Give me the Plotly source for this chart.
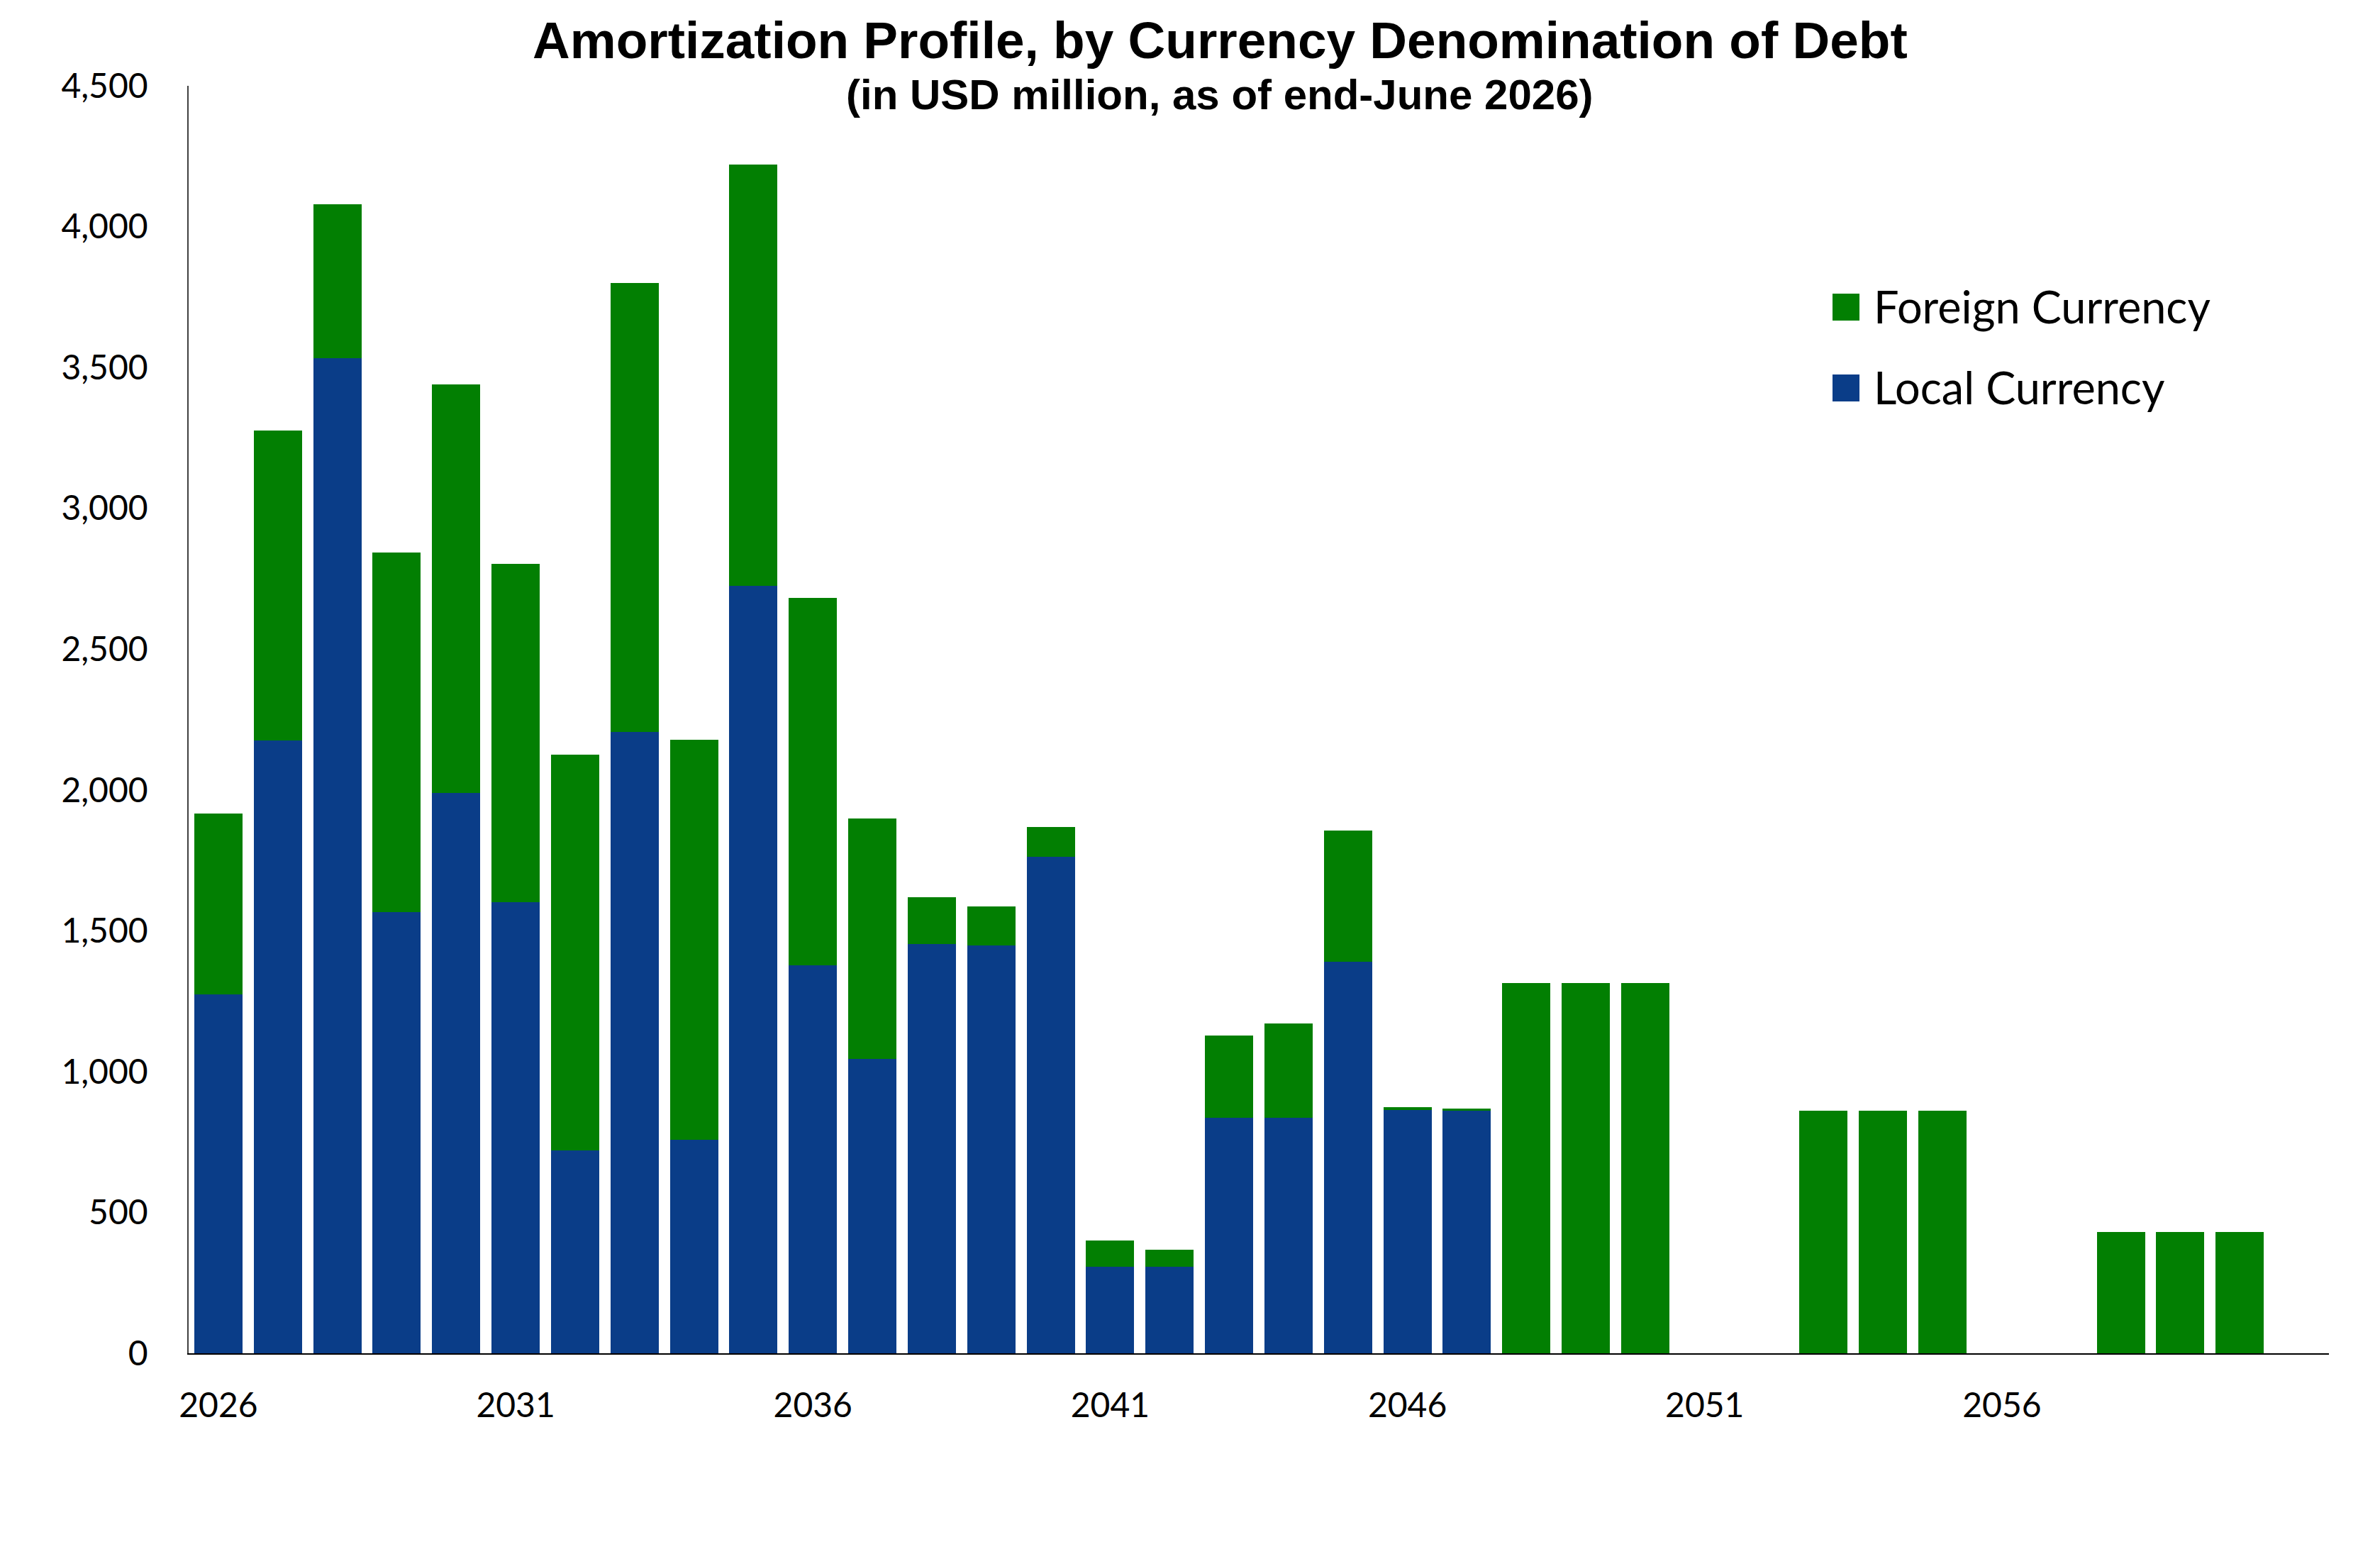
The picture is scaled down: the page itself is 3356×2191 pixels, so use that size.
import plotly.graph_objects as go

# ---- data (USD million) ----
years = list(range(2026, 2061))
local_currency = [1274, 2175, 3533, 1566, 1990, 1601, 720, 2206, 757, 2724,
                  1377, 1046, 1453, 1449, 1762, 306, 306, 836, 836, 1389,
                  863, 863, 0, 0, 0, 0, 0, 0, 0, 0,
                  0, 0, 0, 0, 0]
foreign_currency = [642, 1102, 546, 1278, 1451, 1202, 1406, 1594, 1422, 1496,
                    1304, 852, 166, 138, 106, 94, 62, 292, 336, 466,
                    10, 5, 1315, 1315, 1315, 0, 0, 861, 861, 861,
                    0, 0, 430, 430, 430]
x_tick_years = [2026, 2031, 2036, 2041, 2046, 2051, 2056]
y_ticks = [0, 500, 1000, 1500, 2000, 2500, 3000, 3500, 4000, 4500]

title_text = "Amortization Profile, by Currency Denomination of Debt"
subtitle_text = "(in USD million, as of end-June 2026)"
series_names = ["Foreign Currency", "Local Currency"]

GREEN = "#027F02"
BLUE = "#0A3D88"

OFF = 8  # page body margin
W, H = 3356 - OFF, 2191 - OFF
L, R, T, B = 266 - OFF, 72, 121 - OFF, 283
PW, PH = W - L - R, H - T - B


def px_x(p):
    # p is a page pixel position
    return (p - OFF - L) / PW


def px_y(p):
    return (H - B - (p - OFF)) / PH


fig = go.Figure()
fig.add_trace(go.Bar(x=years, y=local_currency, name=series_names[1],
                     marker=dict(color=BLUE, line=dict(width=0)), showlegend=False))
fig.add_trace(go.Bar(x=years, y=foreign_currency, name=series_names[0],
                     marker=dict(color=GREEN, line=dict(width=0)), showlegend=False))

TICKFONT = dict(family="Lato", size=48, color="black")

fig.update_layout(
    width=W, height=H,
    margin=dict(l=L, r=R, t=T, b=B, pad=0),
    barmode="stack",
    bargap=0.19,
    plot_bgcolor="white",
    paper_bgcolor="white",
    showlegend=False,
    xaxis=dict(
        range=[2025.5, 2061.5],
        tickmode="array", tickvals=x_tick_years,
        ticktext=[str(v) for v in x_tick_years],
        showgrid=False, zeroline=False,
        showline=True, linecolor="black", linewidth=2,
        ticks="", tickfont=TICKFONT, ticklabelstandoff=30,
    ),
    yaxis=dict(
        range=[0, 4500],
        tickmode="array", tickvals=y_ticks,
        tickformat=",",
        showgrid=False, zeroline=False,
        showline=True, linecolor="#404040", linewidth=1.5,
        ticks="", tickfont=TICKFONT, ticklabelstandoff=46,
    ),
)

# titles
fig.add_annotation(text="<b>" + title_text + "</b>", xref="paper", yref="paper",
                   x=px_x(1720), y=px_y(56), xanchor="center", yanchor="middle",
                   showarrow=False,
                   font=dict(family="Liberation Sans", size=73, color="black"))
fig.add_annotation(text="<b>" + subtitle_text + "</b>", xref="paper", yref="paper",
                   x=px_x(1720), y=px_y(134), xanchor="center", yanchor="middle",
                   showarrow=False,
                   font=dict(family="Liberation Sans", size=60, color="black"))

# legend (drawn manually to get large square keys)
legend_rows = [(series_names[0], GREEN, 433), (series_names[1], BLUE, 547)]
for name, color, cy in legend_rows:
    fig.add_shape(type="rect", xref="paper", yref="paper",
                  x0=px_x(2584), x1=px_x(2622), y0=px_y(cy + 19), y1=px_y(cy - 19),
                  fillcolor=color, line=dict(width=0))
    fig.add_annotation(text=name, xref="paper", yref="paper",
                       x=px_x(2640), y=px_y(cy - 2), xanchor="left", yanchor="middle",
                       showarrow=False,
                       font=dict(family="Lato", size=63, color="black"))

fig.write_html("out.html")
